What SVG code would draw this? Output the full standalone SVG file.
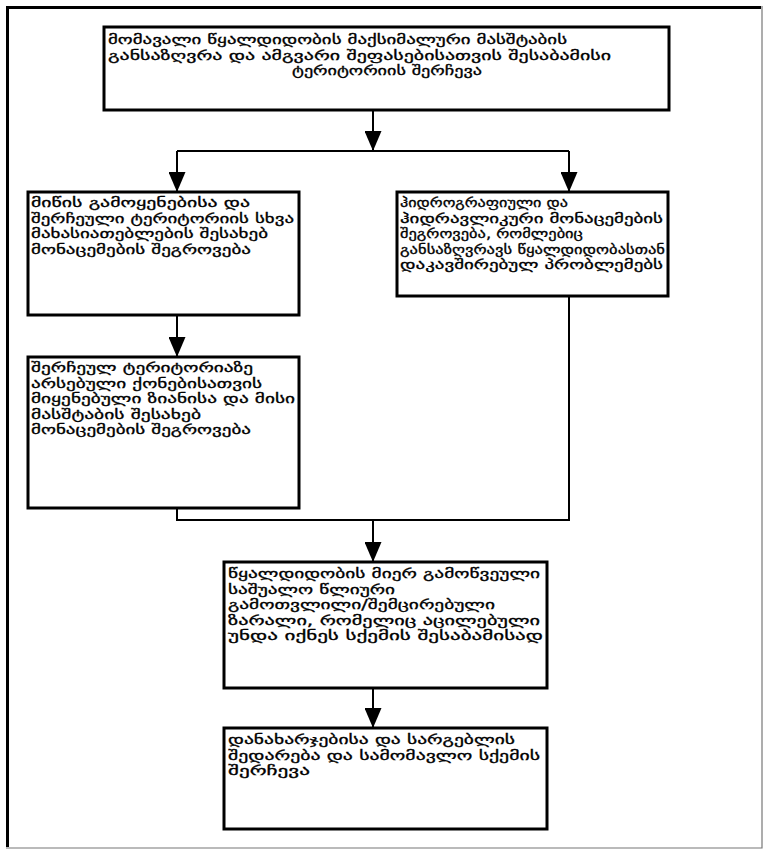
<svg xmlns="http://www.w3.org/2000/svg" width="765" height="851" viewBox="0 0 765 851">
  <style>
    .box { fill: #fff; stroke: #000; stroke-width: 3; }
    .line { fill: none; stroke: #000; stroke-width: 2; }
    .lbl { font-family: "DejaVu Sans", sans-serif; font-size: 13.2px; fill: #000; stroke: #000; stroke-width: 0.3px; }
  </style>
  <defs>
    <marker id="arrow" viewBox="0 0 20 17" refX="20" refY="8.5" markerWidth="20" markerHeight="17" markerUnits="userSpaceOnUse" orient="auto">
      <path d="M0,0 L20,8.5 L0,17 Z" fill="#000"/>
    </marker>
  </defs>
  <rect width="765" height="851" fill="#fff"/>
  <!-- outer frame -->
  <path d="M7.5,847 V7.5 H761" fill="none" stroke="#000" stroke-width="3"/>
  <path d="M762,6 V848 H6" fill="none" stroke="#777" stroke-width="1.2"/>

  <g id="connectors">
    <path class="line" d="M373,111 V151" marker-end="url(#arrow)"/>
    <path class="line" d="M177,151 H569"/>
    <path class="line" d="M177,151 V192" marker-end="url(#arrow)"/>
    <path class="line" d="M569,151 V192" marker-end="url(#arrow)"/>
    <path class="line" d="M177,316 V357" marker-end="url(#arrow)"/>
    <path class="line" d="M177,509 V520 H569 V297"/>
    <path class="line" d="M373,520 V562" marker-end="url(#arrow)"/>
    <path class="line" d="M373,689 V728" marker-end="url(#arrow)"/>
  </g>

  <!-- lines are stretched to the measured widths, glyphs included -->
  <g id="scope">
    <rect class="box" x="104" y="27" width="565" height="83"/>
    <text class="lbl" lengthAdjust="spacingAndGlyphs">
      <tspan x="108" y="44" textLength="459" lengthAdjust="spacingAndGlyphs">მომავალი წყალდიდობის მაქსიმალური მასშტაბის</tspan>
      <tspan x="108" y="59.5" textLength="503" lengthAdjust="spacingAndGlyphs">განსაზღვრა და ამგვარი შეფასებისათვის შესაბამისი</tspan>
      <tspan x="387" y="75" text-anchor="middle" textLength="190" lengthAdjust="spacingAndGlyphs">ტერიტორიის შერჩევა</tspan>
    </text>
  </g>

  <g id="land-use">
    <rect class="box" x="28" y="192" width="271" height="123"/>
    <text class="lbl">
      <tspan x="31" y="207" textLength="219" lengthAdjust="spacingAndGlyphs">მიწის გამოყენებისა და</tspan>
      <tspan x="31" y="222.5" textLength="263" lengthAdjust="spacingAndGlyphs">შერჩეული ტერიტორიის სხვა</tspan>
      <tspan x="31" y="238" textLength="237" lengthAdjust="spacingAndGlyphs">მახასიათებლების შესახებ</tspan>
      <tspan x="31" y="253.5" textLength="220" lengthAdjust="spacingAndGlyphs">მონაცემების შეგროვება</tspan>
    </text>
  </g>

  <g id="hydro">
    <rect class="box" x="397" y="192" width="271" height="104"/>
    <text class="lbl">
      <tspan x="400" y="207" textLength="168" lengthAdjust="spacingAndGlyphs">ჰიდროგრაფიული და</tspan>
      <tspan x="400" y="222.5" textLength="263" lengthAdjust="spacingAndGlyphs">ჰიდრავლიკური მონაცემების</tspan>
      <tspan x="400" y="238" textLength="183" lengthAdjust="spacingAndGlyphs">შეგროვება, რომლებიც</tspan>
      <tspan x="400" y="253.5" textLength="265" lengthAdjust="spacingAndGlyphs">განსაზღვრავს წყალდიდობასთან</tspan>
      <tspan x="400" y="269" textLength="263" lengthAdjust="spacingAndGlyphs">დაკავშირებულ პრობლემებს</tspan>
    </text>
  </g>

  <g id="damage">
    <rect class="box" x="28" y="357" width="271" height="151"/>
    <text class="lbl">
      <tspan x="31" y="372" textLength="222" lengthAdjust="spacingAndGlyphs">შერჩეულ ტერიტორიაზე</tspan>
      <tspan x="31" y="387.5" textLength="231" lengthAdjust="spacingAndGlyphs">არსებული ქონებისათვის</tspan>
      <tspan x="31" y="403" textLength="264" lengthAdjust="spacingAndGlyphs">მიყენებული ზიანისა და მისი</tspan>
      <tspan x="31" y="418.5" textLength="170" lengthAdjust="spacingAndGlyphs">მასშტაბის შესახებ</tspan>
      <tspan x="31" y="434" textLength="220" lengthAdjust="spacingAndGlyphs">მონაცემების შეგროვება</tspan>
    </text>
  </g>

  <g id="annual-loss">
    <rect class="box" x="224" y="562" width="323" height="126"/>
    <text class="lbl">
      <tspan x="228" y="578" textLength="312" lengthAdjust="spacingAndGlyphs">წყალდიდობის მიერ გამოწვეული</tspan>
      <tspan x="228" y="593.5" textLength="167" lengthAdjust="spacingAndGlyphs">საშუალო წლიური</tspan>
      <tspan x="228" y="609" textLength="267" lengthAdjust="spacingAndGlyphs">გამოთვლილი/შემცირებული</tspan>
      <tspan x="228" y="624.5" textLength="312" lengthAdjust="spacingAndGlyphs">ზარალი, რომელიც აცილებული</tspan>
      <tspan x="228" y="640" textLength="315" lengthAdjust="spacingAndGlyphs">უნდა იქნეს სქემის შესაბამისად</tspan>
    </text>
  </g>

  <g id="selection">
    <rect class="box" x="224" y="728" width="323" height="101"/>
    <text class="lbl">
      <tspan x="228" y="744" textLength="287" lengthAdjust="spacingAndGlyphs">დანახარჯებისა და სარგებლის</tspan>
      <tspan x="228" y="759.5" textLength="312" lengthAdjust="spacingAndGlyphs">შედარება და სამომავლო სქემის</tspan>
      <tspan x="228" y="775" textLength="82" lengthAdjust="spacingAndGlyphs">შერჩევა</tspan>
    </text>
  </g>
</svg>
